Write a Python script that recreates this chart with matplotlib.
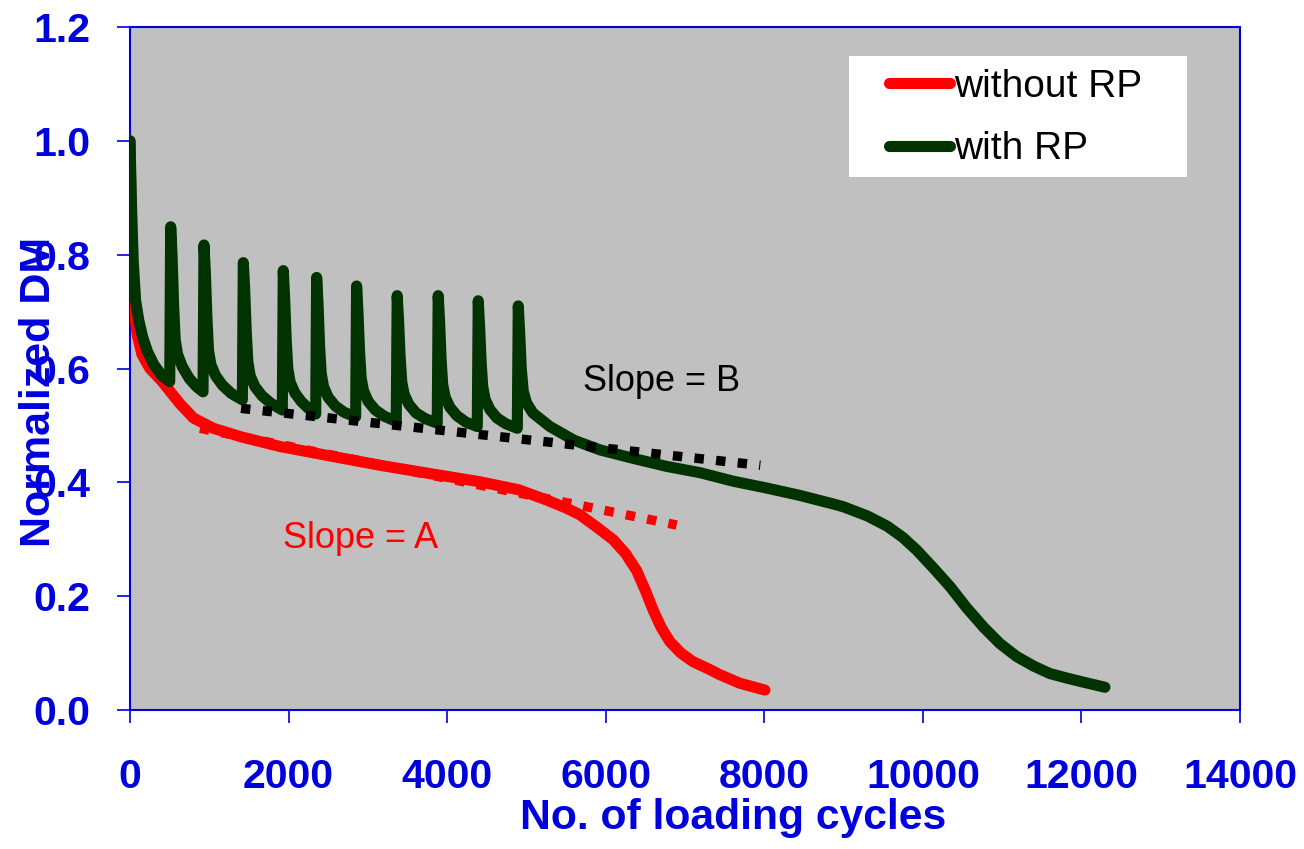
import matplotlib
matplotlib.use("Agg")
import matplotlib.pyplot as plt
from matplotlib.patches import Rectangle

plt.rcParams["font.family"] = ["Liberation Sans", "DejaVu Sans"]

BLUE = "#0000dd"
RED = "#ff0000"
GREEN = "#003300"

# without RP (red curve)
red_x = [0, 15, 30, 55, 90, 150, 250, 400, 631, 800, 1051, 1400, 1892, 2500,
         3153, 3800, 4414, 4900, 5255, 5500, 5675, 5900, 6096, 6250, 6390,
         6500, 6600, 6700, 6810, 6950, 7100, 7300, 7441, 7693, 8009]
red_y = [1.0, 0.85, 0.76, 0.70, 0.66, 0.625, 0.60, 0.578, 0.538, 0.513, 0.495,
         0.48, 0.463, 0.447, 0.43, 0.415, 0.401, 0.387, 0.369, 0.355, 0.343,
         0.32, 0.299, 0.275, 0.245, 0.21, 0.175, 0.145, 0.12, 0.10, 0.085,
         0.072, 0.062, 0.047, 0.035]

# with RP (green curve, rest periods cause the spikes)
green_x = [0, 20, 40, 70, 110, 160, 220, 300, 400, 501,
           513, 530, 550, 570, 600, 660, 750, 840, 921,
           933, 950, 970, 990, 1020, 1080, 1170, 1280, 1417,
           1429, 1446, 1466, 1486, 1516, 1576, 1666, 1776, 1921,
           1933, 1950, 1970, 1990, 2020, 2080, 2160, 2250, 2342,
           2354, 2371, 2391, 2411, 2441, 2501, 2591, 2701, 2846,
           2858, 2875, 2895, 2915, 2945, 3005, 3095, 3210, 3358,
           3370, 3387, 3407, 3427, 3457, 3517, 3607, 3722, 3875,
           3887, 3904, 3924, 3944, 3974, 4034, 4124, 4234, 4380,
           4392, 4409, 4429, 4449, 4479, 4539, 4629, 4739, 4885,
           4897, 4914, 4935, 4960, 5000, 5080, 5297, 5600, 5928, 6350, 6769,
           7189, 7608, 8030, 8450, 8870, 9000, 9300, 9550, 9750, 9922, 10130,
           10342, 10550, 10763, 10970, 11183, 11400, 11603, 11820, 12023, 12297]
green_y = [1.0, 0.88, 0.79, 0.72, 0.685, 0.655, 0.63, 0.607, 0.588, 0.577,
           0.849, 0.80, 0.71, 0.65, 0.625, 0.603, 0.582, 0.568, 0.559,
           0.817, 0.77, 0.69, 0.632, 0.607, 0.587, 0.57, 0.556, 0.545,
           0.786, 0.74, 0.665, 0.612, 0.587, 0.568, 0.552, 0.539, 0.527,
           0.772, 0.725, 0.65, 0.6, 0.576, 0.557, 0.542, 0.53, 0.520,
           0.760, 0.715, 0.64, 0.592, 0.568, 0.549, 0.534, 0.523, 0.515,
           0.745, 0.70, 0.63, 0.584, 0.561, 0.542, 0.527, 0.516, 0.507,
           0.728, 0.685, 0.62, 0.577, 0.555, 0.537, 0.522, 0.512, 0.504,
           0.728, 0.685, 0.615, 0.572, 0.55, 0.532, 0.517, 0.506, 0.498,
           0.719, 0.675, 0.61, 0.568, 0.546, 0.528, 0.513, 0.503, 0.495,
           0.710, 0.665, 0.60, 0.56, 0.54, 0.522, 0.498, 0.474, 0.457, 0.442,
           0.428, 0.417, 0.402, 0.390, 0.377, 0.362, 0.357, 0.341, 0.323, 0.303,
           0.281, 0.25, 0.217, 0.18, 0.146, 0.117, 0.094, 0.077, 0.064, 0.056,
           0.049, 0.040]

# slope guide lines
slope_a_x = [883, 6895]
slope_a_y = [0.495, 0.325]
slope_b_x = [1400, 7950]
slope_b_y = [0.530, 0.430]

xticks = [0, 2000, 4000, 6000, 8000, 10000, 12000, 14000]
yticks = [0.0, 0.2, 0.4, 0.6, 0.8, 1.0, 1.2]

fig = plt.figure(figsize=(13.04, 8.49), dpi=100)
ax = fig.add_axes([0.0997, 0.1637, 0.8512, 0.8045])
ax.set_facecolor("#c0c0c0")

ax.plot(slope_a_x, slope_a_y, color=RED, lw=6.8, linestyle=(0, (1, 1.3)), zorder=2)
ax.plot(red_x, red_y, color=RED, lw=8, solid_capstyle="round",
        solid_joinstyle="round", label="without RP", zorder=3)
ax.plot(green_x, green_y, color=GREEN, lw=8, solid_capstyle="round",
        solid_joinstyle="round", label="with RP", zorder=4)
ax.plot(slope_b_x, slope_b_y, color="black", lw=6.8, linestyle=(0, (1, 1.3)), zorder=5)

ax.text(6700, 0.578, "Slope = B", fontsize=26, color="black", ha="center", va="center")
ax.text(2913, 0.302, "Slope = A", fontsize=26, color=RED, ha="center", va="center")

ax.set_xlim(0, 14000)
ax.set_ylim(0, 1.2)
ax.set_xticks(xticks)
ax.set_yticks(yticks)
ax.set_xticklabels([str(v) for v in xticks])
ax.set_yticklabels([f"{v:.1f}" for v in yticks])

for s in ax.spines.values():
    s.set_color(BLUE)
    s.set_linewidth(1.5)

ax.tick_params(axis="both", colors=BLUE, direction="out", length=9.4, width=1.2,
               labelsize=29.5)
ax.tick_params(axis="x", pad=25)
ax.tick_params(axis="y", pad=19)
for lab in ax.get_xticklabels() + ax.get_yticklabels():
    lab.set_fontweight("bold")

ax.set_xlabel("No. of loading cycles", fontsize=30.7, fontweight="bold", color=BLUE)
ax.set_ylabel("Normalized DM", fontsize=31, fontweight="bold", color=BLUE)
ax.xaxis.set_label_coords(0.543, -0.129)
ax.yaxis.set_label_coords(-0.064, 0.466)

# legend box
box = Rectangle((0.648, 0.780), 0.3045, 0.177, transform=ax.transAxes,
                facecolor="white", edgecolor="none", zorder=6)
ax.add_patch(box)
leg = ax.legend(loc="upper left", bbox_to_anchor=(0.684, 0.939), frameon=False,
                fontsize=28, handlelength=1.57, handletextpad=0.1,
                labelspacing=0.69, borderpad=0, borderaxespad=0)
leg.set_zorder(7)
for line in leg.get_lines():
    line.set_linewidth(8)
    line.set_solid_capstyle("round")

fig.savefig("out.png", dpi=100)
